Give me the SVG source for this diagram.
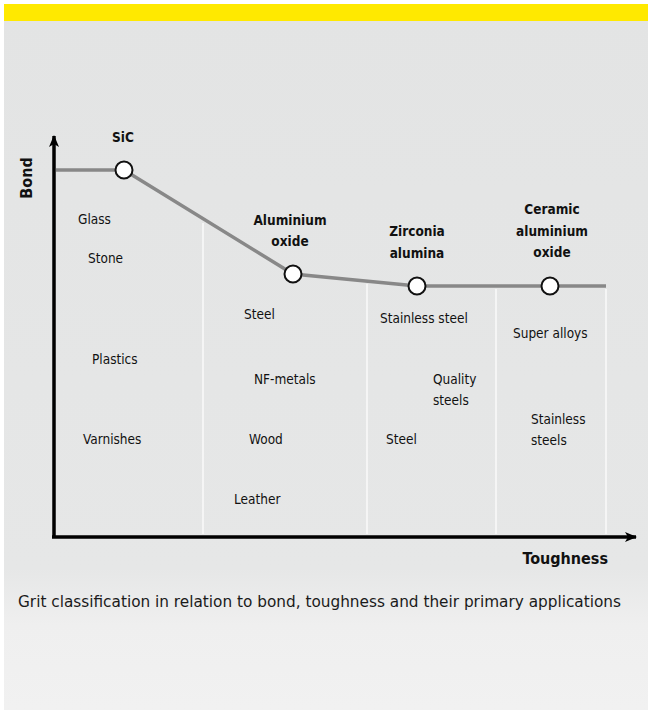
<svg xmlns="http://www.w3.org/2000/svg" width="651" height="713" viewBox="0 0 651 713">
<defs>
<linearGradient id="bg" x1="0" y1="0" x2="0" y2="1">
<stop offset="0" stop-color="#e3e4e4"/>
<stop offset="0.8" stop-color="#e6e7e7"/>
<stop offset="0.88" stop-color="#efefef"/>
<stop offset="1" stop-color="#f1f1f1"/>
</linearGradient>
<marker id="arr" viewBox="0 0 12 10" refX="11" refY="5" markerWidth="12" markerHeight="10" markerUnits="userSpaceOnUse" orient="auto">
<path d="M0,0 L12,5 L0,10 L3,5 Z" fill="#000"/>
</marker>
<style>
text{font-family:"DejaVu Sans Condensed","DejaVu Sans","Liberation Sans",sans-serif;fill:#111}
.lbl{font-size:13.5px}
.hd{font-size:13.5px;font-weight:bold;text-anchor:middle}
.ax{font-size:16px;font-weight:bold}
.div{stroke:#ffffff;stroke-width:1.2}
.node circle{fill:#fff;stroke:#111;stroke-width:2}
</style>
</defs>
<rect x="0" y="0" width="651" height="713" fill="#ffffff"/>
<rect x="4" y="4" width="644" height="706" fill="url(#bg)"/>
<rect x="4" y="4" width="644" height="17" fill="#ffe900"/>

<g id="dividers">
<line class="div" x1="203" y1="223" x2="203" y2="534"/>
<line class="div" x1="367" y1="284" x2="367" y2="534"/>
<line class="div" x1="496" y1="289" x2="496" y2="534"/>
<line class="div" x1="606" y1="289" x2="606" y2="534"/>
</g>

<g id="connectors">
<polyline points="56,170 124,170 293,274 417,286 550,286 606,286" fill="none" stroke="#888888" stroke-width="3.5"/>
<line x1="54" y1="537" x2="54" y2="136" stroke="#000" stroke-width="3.5" marker-end="url(#arr)"/>
<line x1="52" y1="537" x2="636" y2="537" stroke="#000" stroke-width="3.5" marker-end="url(#arr)"/>
</g>

<g id="sic" class="node"><circle cx="124" cy="170" r="8.5"/><text class="hd" x="123" y="142">SiC</text></g>
<g id="alox" class="node"><circle cx="293" cy="274" r="8.5"/><text class="hd" x="290" y="225">Aluminium</text><text class="hd" x="290" y="246">oxide</text></g>
<g id="zirc" class="node"><circle cx="417" cy="286" r="8.5"/><text class="hd" x="417" y="236">Zirconia</text><text class="hd" x="417" y="258">alumina</text></g>
<g id="ceram" class="node"><circle cx="550" cy="286" r="8.5"/><text class="hd" x="552" y="214">Ceramic</text><text class="hd" x="552" y="236">aluminium</text><text class="hd" x="552" y="257">oxide</text></g>

<g id="axis-labels">
<text class="ax" transform="translate(32,178) rotate(-90)" text-anchor="middle">Bond</text>
<text class="ax" x="608" y="564" text-anchor="end">Toughness</text>
</g>

<g id="col1">
<text class="lbl" x="78" y="224">Glass</text>
<text class="lbl" x="88" y="263">Stone</text>
<text class="lbl" x="92" y="364">Plastics</text>
<text class="lbl" x="83" y="444">Varnishes</text>
</g>
<g id="col2">
<text class="lbl" x="244" y="319">Steel</text>
<text class="lbl" x="254" y="384">NF-metals</text>
<text class="lbl" x="249" y="444">Wood</text>
<text class="lbl" x="234" y="504">Leather</text>
</g>
<g id="col3">
<text class="lbl" x="380" y="323">Stainless steel</text>
<text class="lbl" x="433" y="384">Quality</text>
<text class="lbl" x="433" y="405">steels</text>
<text class="lbl" x="386" y="444">Steel</text>
</g>
<g id="col4">
<text class="lbl" x="513" y="338">Super alloys</text>
<text class="lbl" x="531" y="424">Stainless</text>
<text class="lbl" x="531" y="445">steels</text>
</g>

<text x="18" y="607" font-size="16.5" textLength="603" lengthAdjust="spacingAndGlyphs" style="fill:#1a1a1a">Grit classification in relation to bond, toughness and their primary applications</text>
</svg>
